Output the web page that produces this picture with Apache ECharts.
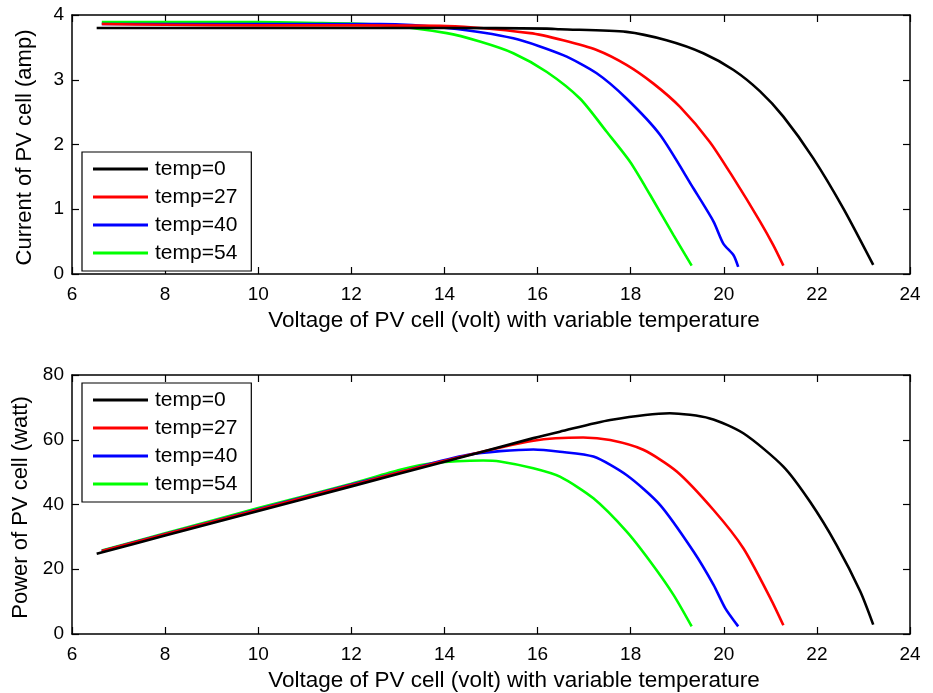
<!DOCTYPE html>
<html><head><meta charset="utf-8">
<script src="https://cdn.jsdelivr.net/npm/echarts@6/dist/echarts.min.js"></script>
<style>html,body{margin:0;padding:0;background:#fff}#c{width:933px;height:693px}</style>
</head><body><div id="c"></div>
<script>
// ---- data ----
const names = ['temp=0', 'temp=27', 'temp=40', 'temp=54'];
const colors = ['#000000', '#ff0000', '#0000ff', '#00ff00'];
const xTicks = [6, 8, 10, 12, 14, 16, 18, 20, 22, 24];

// Current (amp) vs voltage (volt)
const iv0V = [6.53, 8, 10, 12, 14, 16.2, 16.48, 17.91, 18.77, 19.56, 20.21, 20.78, 21.28, 21.92, 22.57, 23.21];
const iv0I = [3.80, 3.80, 3.80, 3.80, 3.80, 3.79, 3.78, 3.74, 3.61, 3.41, 3.15, 2.82, 2.43, 1.79, 1.01, 0.14];
const iv27V = [6.64, 8, 10, 12, 14.05, 15.84, 16.55, 17.27, 17.91, 18.49, 19.06, 19.70, 20.21, 20.78, 21.06, 21.28];
const iv27I = [3.86, 3.85, 3.84, 3.84, 3.83, 3.72, 3.61, 3.46, 3.23, 2.94, 2.58, 2.04, 1.48, 0.81, 0.45, 0.13];
const iv40V = [6.64, 8, 10, 12, 12.62, 14.05, 15.48, 16.55, 17.27, 17.91, 18.63, 19.35, 19.78, 19.99, 20.21, 20.31];
const iv40I = [3.86, 3.86, 3.86, 3.86, 3.86, 3.80, 3.64, 3.38, 3.10, 2.71, 2.15, 1.32, 0.81, 0.47, 0.29, 0.11];
const iv54V = [6.64, 8, 10, 11, 12.62, 14.05, 14.76, 15.48, 16.20, 16.91, 17.48, 17.99, 18.42, 18.92, 19.31];
const iv54I = [3.89, 3.89, 3.89, 3.88, 3.85, 3.72, 3.59, 3.41, 3.12, 2.71, 2.20, 1.73, 1.22, 0.60, 0.13];

// Power (watt) vs voltage (volt)
const pv0V = [6.53, 8, 10, 12, 14, 15.91, 16.48, 17.56, 18.84, 19.70, 20.42, 21.28, 21.85, 22.42, 22.93, 23.21];
const pv0P = [24.8, 30.4, 38.0, 45.6, 53.2, 60.5, 62.5, 66.1, 68.2, 66.6, 62.0, 51.7, 40.9, 27.55, 13.2, 2.9];
const pv27V = [6.64, 8, 10, 12, 14, 15.91, 16.98, 17.56, 18.27, 18.99, 19.78, 20.42, 21.0, 21.28];
const pv27P = [25.6, 30.8, 38.4, 46.0, 53.5, 59.7, 60.7, 59.9, 56.9, 50.2, 38.3, 26.5, 11.1, 2.7];
const pv40V = [6.64, 8, 10, 12, 13, 14.48, 15.91, 16.48, 17.20, 17.91, 18.63, 19.35, 19.78, 20.03, 20.31];
const pv40P = [25.6, 30.9, 38.5, 46.2, 49.9, 55.3, 57.0, 56.3, 54.8, 49.1, 39.9, 25.5, 15.2, 8.0, 2.35];
const pv54V = [6.64, 8, 10, 12, 13.05, 13.76, 14.83, 15.19, 15.91, 16.48, 17.20, 17.91, 18.42, 18.92, 19.31];
const pv54P = [25.8, 31.1, 38.9, 46.4, 50.7, 52.8, 53.6, 53.3, 51.2, 48.6, 41.9, 31.7, 22.4, 12.1, 2.35];

const ivSets = [[iv0V, iv0I], [iv27V, iv27I], [iv40V, iv40I], [iv54V, iv54I]];
const pvSets = [[pv0V, pv0P], [pv27V, pv27P], [pv40V, pv40P], [pv54V, pv54P]];

// ---- chart ----
const FONT = 'Liberation Sans';
const zip = (a, b) => a.map((v, i) => [v, b[i]]);

function xAx(grid, pos, show) {
  return {
    type: 'value', gridIndex: grid, position: pos, min: xTicks[0], max: xTicks[xTicks.length - 1], interval: 2,
    name: show ? 'Voltage of PV cell (volt) with variable temperature' : '',
    nameLocation: 'middle', nameGap: 35,
    nameTextStyle: { fontFamily: FONT, fontSize: 22.5, color: '#000', padding: [0, 0, 0, 46] },
    axisLine: { show: true, onZero: false, lineStyle: { color: '#000', width: 1.5 } },
    axisTick: { show: true, inside: true, length: 7, lineStyle: { color: '#000', width: 1.2 } },
    axisLabel: { show: show, margin: 11, fontFamily: FONT, fontSize: 19, color: '#000' },
    splitLine: { show: false }
  };
}
function yAx(grid, pos, show, max, interval, name) {
  return {
    type: 'value', gridIndex: grid, position: pos, min: 0, max: max, interval: interval,
    name: show ? name : '', nameLocation: 'middle', nameGap: 36,
    nameTextStyle: { fontFamily: FONT, fontSize: 22, color: '#000', padding: [0, 6, 0, 0] },
    axisLine: { show: true, onZero: false, lineStyle: { color: '#000', width: 1.5 } },
    axisTick: { show: true, inside: true, length: 7, lineStyle: { color: '#000', width: 1.2 } },
    axisLabel: { show: show, margin: 8, fontFamily: FONT, fontSize: 19, color: '#000' },
    splitLine: { show: false }
  };
}

const series = [];
ivSets.forEach((s, k) => series.push({
  name: names[k], type: 'line', xAxisIndex: 0, yAxisIndex: 0, data: zip(s[0], s[1]),
  symbol: 'none', smooth: 0.25, z: 10 - k,
  lineStyle: { color: colors[k], width: 2.6 }, itemStyle: { color: colors[k] }
}));
pvSets.forEach((s, k) => series.push({
  name: names[k], type: 'line', xAxisIndex: 2, yAxisIndex: 2, data: zip(s[0], s[1]),
  symbol: 'none', smooth: 0.25, z: 10 - k,
  lineStyle: { color: colors[k], width: 2.6 }, itemStyle: { color: colors[k] }
}));

function legend(top) {
  return {
    data: names, left: 82, top: top, orient: 'vertical',
    backgroundColor: '#fff', borderColor: '#000', borderWidth: 1.2,
    padding: [6, 14, 7, 11], itemWidth: 55, itemHeight: 3, itemGap: 6, icon: 'rect',
    selectedMode: false,
    textStyle: { fontFamily: FONT, fontSize: 21, color: '#000', lineHeight: 22, padding: [0, 0, 0, 2] }
  };
}

const chart = echarts.init(document.getElementById('c'), null, { renderer: 'canvas' });
chart.setOption({
  animation: false,
  backgroundColor: '#fff',
  grid: [
    { left: 72, right: 23, top: 15, height: 259 },
    { left: 72, right: 23, top: 375, height: 259 }
  ],
  xAxis: [xAx(0, 'bottom', true), xAx(0, 'top', false), xAx(1, 'bottom', true), xAx(1, 'top', false)],
  yAxis: [
    yAx(0, 'left', true, 4, 1, 'Current of PV cell (amp)'), yAx(0, 'right', false, 4, 1, ''),
    yAx(1, 'left', true, 80, 20, 'Power of PV cell (watt)'), yAx(1, 'right', false, 80, 20, '')
  ],
  legend: [legend(152), legend(383)],
  series: series
});
</script></body></html>
